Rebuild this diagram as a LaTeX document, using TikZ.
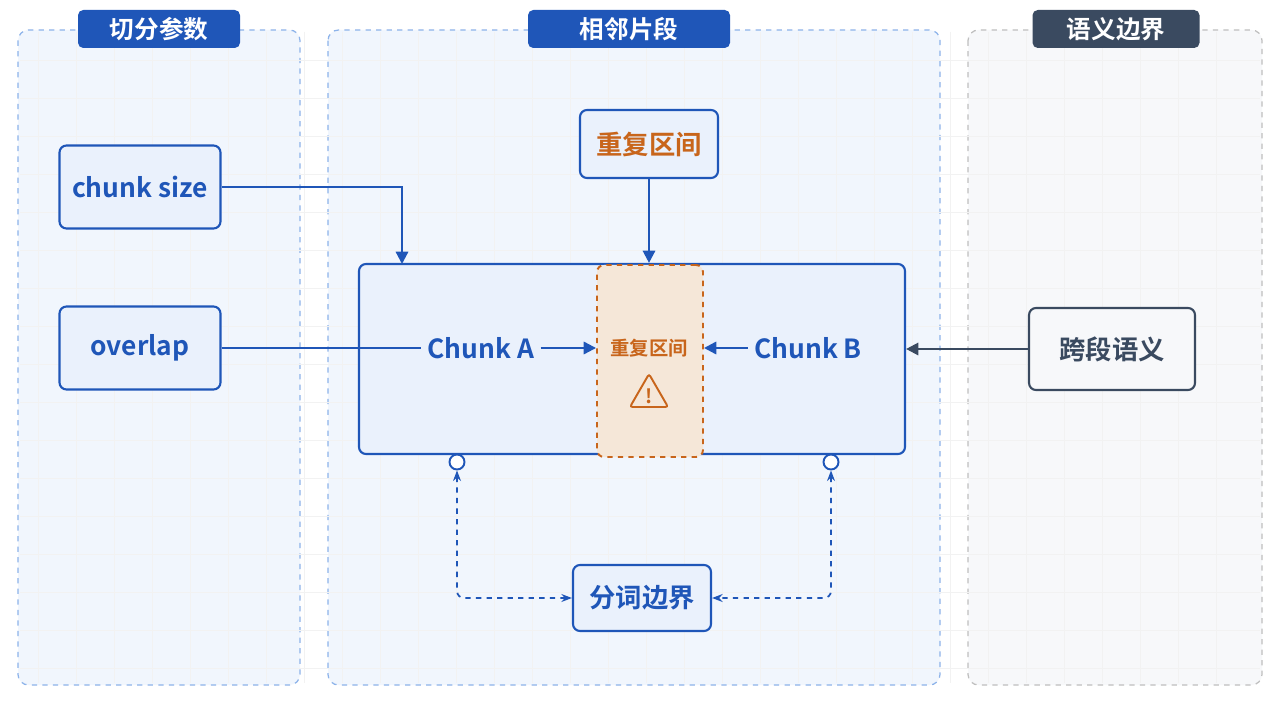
\documentclass[tikz,border=0pt]{standalone}
\usepackage{fontspec}
\setmainfont{Noto Sans CJK SC}[BoldFont={Noto Sans CJK SC Bold}]
\usetikzlibrary{arrows.meta,positioning,shapes.geometric}
\definecolor{mainblue}{HTML}{1F56B8}
\definecolor{panelblue}{HTML}{F1F6FD}
\definecolor{boxblue}{HTML}{EAF1FC}
\definecolor{dashblue}{HTML}{8DB3EA}
\definecolor{warnorange}{HTML}{C8651B}
\definecolor{warnfill}{HTML}{F5E7D8}
\definecolor{slate}{HTML}{3A4A60}
\definecolor{graypanel}{HTML}{F7F8FA}
\tikzset{
  panel/.style={draw=dashblue, dashed, rounded corners=6pt, fill=panelblue, line width=0.7pt},
  tab/.style={fill=mainblue, rounded corners=3pt, text=white, font=\bfseries\fontsize{14}{16}\selectfont},
  box/.style={draw=mainblue, fill=boxblue, rounded corners=4pt, line width=1.2pt, text=mainblue, font=\bfseries\fontsize{15}{17}\selectfont},
  flow/.style={mainblue, line width=1.3pt, -{Triangle[length=7pt,width=7pt]}},
  bound/.style={mainblue, line width=1pt, dashed, {Stealth[length=6pt]}-{Stealth[length=6pt]}, rounded corners=4pt}
}
\begin{document}
\begin{tikzpicture}[x=0.02cm, y=-0.02cm]
\useasboundingbox (0,0) rectangle (1280,702);
\fill[white] (0,0) rectangle (1280,702);

% panels
\draw[panel] (18,30) rectangle (300,685);
\draw[panel] (328,30) rectangle (940,685);
\draw[panel, draw=gray!50, fill=graypanel] (968,30) rectangle (1262,685);
\foreach \gx in {38,76,...,1250} \draw[black!5] (\gx,32) -- (\gx,683);
\foreach \gy in {60,98,...,680} \draw[black!5] (20,\gy) -- (1260,\gy);

\node[tab, minimum width=162*0.02cm, minimum height=38*0.02cm] (tabsplit) at (159,29) {切分参数};
\node[tab, minimum width=202*0.02cm, minimum height=38*0.02cm] (tabchunk) at (629,29) {相邻片段};
\node[tab, fill=slate, minimum width=167*0.02cm, minimum height=38*0.02cm] (tabsem) at (1116,29) {语义边界};

% left inputs
\node[box, minimum width=161*0.02cm, minimum height=83*0.02cm] (size) at (140,187) {chunk size};
\node[box, minimum width=161*0.02cm, minimum height=83*0.02cm] (ovl) at (140,348) {overlap};

% adjacent chunks
\node[box, minimum width=546*0.02cm, minimum height=190*0.02cm] (pair) at (632,359) {};
\node[draw=warnorange, dashed, fill=warnfill, rounded corners=4pt, line width=1.1pt,
      minimum width=106*0.02cm, minimum height=192*0.02cm] (zone) at (650,361) {};
\node[text=warnorange, font=\bfseries\fontsize{11}{13}\selectfont] (zonetxt) at (649,348) {重复区间};
\node[draw=warnorange, line width=1.1pt, regular polygon, regular polygon sides=3, inner sep=0pt,
      minimum size=44*0.02cm, rounded corners=1.5pt] (warn) at (649,396) {};
\node[text=warnorange, font=\bfseries\fontsize{11}{13}\selectfont] at (649,396) {!};
\node[text=mainblue, font=\bfseries\fontsize{15}{17}\selectfont] (ca) at (481,348) {Chunk A};
\node[text=mainblue, font=\bfseries\fontsize{15}{17}\selectfont] (cb) at (808,348) {Chunk B};
\node[box, text=warnorange, minimum width=138*0.02cm, minimum height=68*0.02cm] (dup) at (649,144) {重复区间};

\node[draw=mainblue, fill=white, circle, line width=1.1pt, minimum size=15*0.02cm, inner sep=0pt] (pa) at (457,462) {};
\node[draw=mainblue, fill=white, circle, line width=1.1pt, minimum size=15*0.02cm, inner sep=0pt] (pb) at (831,462) {};
\node[box, minimum width=138*0.02cm, minimum height=66*0.02cm] (tok) at (642,598) {分词边界};

% semantics
\node[box, draw=slate, fill=graypanel, text=slate, minimum width=166*0.02cm, minimum height=82*0.02cm] (sem) at (1112,349) {跨段语义};

% connectors
\draw[flow] (size.east) -| (402,264);
\draw[flow] (dup.south) -- (dup.south |- pair.north);
\draw[mainblue, line width=1.3pt] (ovl.east) -- (ca.west);
\draw[flow] (ca.east) -- (ca.east -| zone.west);
\draw[flow] (cb.west) -- (cb.west -| zone.east);
\draw[flow, slate] (sem.west) -- (pair.east |- sem.west);
\draw[bound] (pa.south) |- (tok.west);
\draw[bound] (pb.south) |- (tok.east);
\end{tikzpicture}
\end{document}
